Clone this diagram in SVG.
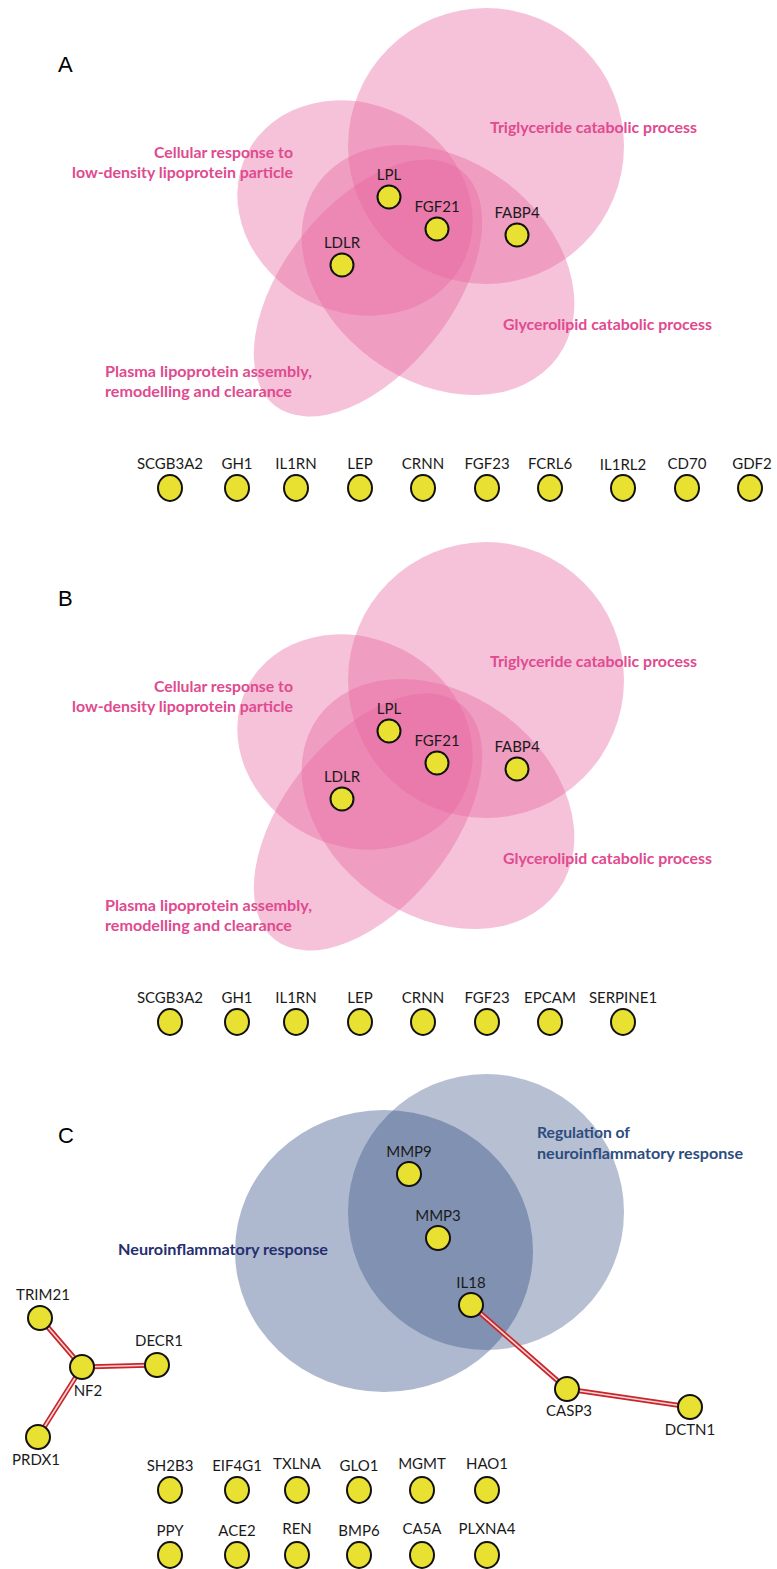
<svg xmlns="http://www.w3.org/2000/svg" width="777" height="1569" viewBox="0 0 777 1569">
<style>
.bg{fill:#ffffff}
.pink{fill:#e8669f;fill-opacity:0.4}
.blueL{fill:#5d739f;fill-opacity:0.5}
.blueR{fill:#254077;fill-opacity:0.33}
.node{fill:#e9e131;stroke:#111;stroke-width:2}
.lbl{font-family:Lato,"Open Sans","Liberation Sans",sans-serif;font-size:15px;fill:#1a1a1a;text-anchor:middle}
.cat{font-family:Lato,"Open Sans","Liberation Sans",sans-serif;font-size:16px;font-weight:bold;fill:#e04a8f}
.catR{text-anchor:end}
.catC1{font-family:Lato,"Open Sans","Liberation Sans",sans-serif;font-size:16px;font-weight:bold;fill:#252f70}
.catC2{font-family:Lato,"Open Sans","Liberation Sans",sans-serif;font-size:16px;font-weight:bold;fill:#2d4c7e}
.panel{font-family:"Liberation Sans",Arial,sans-serif;font-size:22px;fill:#000}
.edgeO{stroke:#c9262c;stroke-width:5;fill:none;stroke-linecap:round}
.edgeI{stroke:#f6d6d6;stroke-width:1.6;fill:none}
</style>
<defs>
<g id="venn">
<circle class="pink" cx="486" cy="146" r="138"/>
<ellipse class="pink" cx="0" cy="0" rx="121" ry="104" transform="translate(355 208) rotate(27)"/>
<ellipse class="pink" cx="0" cy="0" rx="148" ry="111" transform="translate(438 270) rotate(36)"/>
<ellipse class="pink" cx="0" cy="0" rx="150" ry="84" transform="translate(368 288) rotate(-51.5)"/>
</g>
<g id="cats">
<text class="cat catR" x="293" y="158" textLength="139" lengthAdjust="spacingAndGlyphs">Cellular response to</text>
<text class="cat catR" x="293" y="178" textLength="221" lengthAdjust="spacingAndGlyphs">low-density lipoprotein particle</text>
<text class="cat" x="105" y="377" textLength="207" lengthAdjust="spacingAndGlyphs">Plasma lipoprotein assembly,</text>
<text class="cat" x="105" y="397" textLength="187" lengthAdjust="spacingAndGlyphs">remodelling and clearance</text>
<text class="cat" x="490" y="133" textLength="207" lengthAdjust="spacingAndGlyphs">Triglyceride catabolic process</text>
<text class="cat" x="503" y="330" textLength="209" lengthAdjust="spacingAndGlyphs">Glycerolipid catabolic process</text>
</g>
</defs>
<rect class="bg" x="0" y="0" width="777" height="1569"/>

<!-- Panel A -->
<g id="panelA">
<text class="panel" x="58" y="72">A</text>
<g id="vennA"><use href="#venn"/></g>
<g id="catA"><use href="#cats"/></g>
<g id="A-LPL"><circle class="node" cx="389" cy="197" r="11.5"/><text class="lbl" x="389" y="180">LPL</text></g>
<g id="A-FGF21"><circle class="node" cx="437" cy="229" r="11.5"/><text class="lbl" x="437" y="212">FGF21</text></g>
<g id="A-FABP4"><circle class="node" cx="517" cy="235" r="11.5"/><text class="lbl" x="517" y="218">FABP4</text></g>
<g id="A-LDLR"><circle class="node" cx="342" cy="265" r="11.5"/><text class="lbl" x="342" y="248">LDLR</text></g>
<g id="A-SCGB3A2"><ellipse class="node" cx="170" cy="488" rx="12" ry="13"/><text class="lbl" x="170" y="469">SCGB3A2</text></g>
<g id="A-GH1"><ellipse class="node" cx="237" cy="488" rx="12" ry="13"/><text class="lbl" x="237" y="469">GH1</text></g>
<g id="A-IL1RN"><ellipse class="node" cx="296" cy="488" rx="12" ry="13"/><text class="lbl" x="296" y="469">IL1RN</text></g>
<g id="A-LEP"><ellipse class="node" cx="360" cy="488" rx="12" ry="13"/><text class="lbl" x="360" y="469">LEP</text></g>
<g id="A-CRNN"><ellipse class="node" cx="423" cy="488" rx="12" ry="13"/><text class="lbl" x="423" y="469">CRNN</text></g>
<g id="A-FGF23"><ellipse class="node" cx="487" cy="488" rx="12" ry="13"/><text class="lbl" x="487" y="469">FGF23</text></g>
<g id="A-FCRL6"><ellipse class="node" cx="550" cy="488" rx="12" ry="13"/><text class="lbl" x="550" y="469">FCRL6</text></g>
<g id="A-IL1RL2"><ellipse class="node" cx="623" cy="488" rx="12" ry="13"/><text class="lbl" x="623" y="470">IL1RL2</text></g>
<g id="A-CD70"><ellipse class="node" cx="687" cy="488" rx="12" ry="13"/><text class="lbl" x="687" y="469">CD70</text></g>
<g id="A-GDF2"><ellipse class="node" cx="750" cy="488" rx="12" ry="13"/><text class="lbl" x="752" y="469">GDF2</text></g>
</g>

<!-- Panel B -->
<g id="panelB">
<text class="panel" x="58" y="606">B</text>
<g id="vennB" transform="translate(0 534)"><use href="#venn"/></g>
<g id="catB" transform="translate(0 534)"><use href="#cats"/></g>
<g id="B-LPL"><circle class="node" cx="389" cy="731" r="11.5"/><text class="lbl" x="389" y="714">LPL</text></g>
<g id="B-FGF21"><circle class="node" cx="437" cy="763" r="11.5"/><text class="lbl" x="437" y="746">FGF21</text></g>
<g id="B-FABP4"><circle class="node" cx="517" cy="769" r="11.5"/><text class="lbl" x="517" y="752">FABP4</text></g>
<g id="B-LDLR"><circle class="node" cx="342" cy="799" r="11.5"/><text class="lbl" x="342" y="782">LDLR</text></g>
<g id="B-SCGB3A2"><ellipse class="node" cx="170" cy="1022" rx="12" ry="13"/><text class="lbl" x="170" y="1003">SCGB3A2</text></g>
<g id="B-GH1"><ellipse class="node" cx="237" cy="1022" rx="12" ry="13"/><text class="lbl" x="237" y="1003">GH1</text></g>
<g id="B-IL1RN"><ellipse class="node" cx="296" cy="1022" rx="12" ry="13"/><text class="lbl" x="296" y="1003">IL1RN</text></g>
<g id="B-LEP"><ellipse class="node" cx="360" cy="1022" rx="12" ry="13"/><text class="lbl" x="360" y="1003">LEP</text></g>
<g id="B-CRNN"><ellipse class="node" cx="423" cy="1022" rx="12" ry="13"/><text class="lbl" x="423" y="1003">CRNN</text></g>
<g id="B-FGF23"><ellipse class="node" cx="487" cy="1022" rx="12" ry="13"/><text class="lbl" x="487" y="1003">FGF23</text></g>
<g id="B-EPCAM"><ellipse class="node" cx="550" cy="1022" rx="12" ry="13"/><text class="lbl" x="550" y="1003">EPCAM</text></g>
<g id="B-SERPINE1"><ellipse class="node" cx="623" cy="1022" rx="12" ry="13"/><text class="lbl" x="623" y="1003">SERPINE1</text></g>
</g>

<!-- Panel C -->
<g id="panelC">
<text class="panel" x="58" y="1143">C</text>
<g id="vennC">
<ellipse class="blueL" cx="384" cy="1251" rx="149" ry="141"/>
<circle class="blueR" cx="486" cy="1212" r="138"/>
</g>
<text class="catC1" x="118" y="1255" textLength="210" lengthAdjust="spacingAndGlyphs">Neuroinflammatory response</text>
<text class="catC2" x="537" y="1138" textLength="93" lengthAdjust="spacingAndGlyphs">Regulation of</text>
<text class="catC2" x="537" y="1159" textLength="206" lengthAdjust="spacingAndGlyphs">neuroinflammatory response</text>

<g id="connectors">
<line class="edgeO" x1="471" y1="1305" x2="567" y2="1389"/>
<line class="edgeI" x1="471" y1="1305" x2="567" y2="1389"/>
<line class="edgeO" x1="567" y1="1389" x2="690" y2="1407"/>
<line class="edgeI" x1="567" y1="1389" x2="690" y2="1407"/>
<line class="edgeO" x1="40" y1="1318" x2="82" y2="1367"/>
<line class="edgeI" x1="40" y1="1318" x2="82" y2="1367"/>
<line class="edgeO" x1="82" y1="1367" x2="157" y2="1365"/>
<line class="edgeI" x1="82" y1="1367" x2="157" y2="1365"/>
<line class="edgeO" x1="82" y1="1367" x2="38" y2="1437"/>
<line class="edgeI" x1="82" y1="1367" x2="38" y2="1437"/>
</g>

<g id="C-MMP9"><circle class="node" cx="409" cy="1174" r="12"/><text class="lbl" x="409" y="1157">MMP9</text></g>
<g id="C-MMP3"><circle class="node" cx="438" cy="1238" r="12"/><text class="lbl" x="438" y="1221">MMP3</text></g>
<g id="C-IL18"><circle class="node" cx="471" cy="1305" r="12"/><text class="lbl" x="471" y="1288">IL18</text></g>
<g id="C-CASP3"><circle class="node" cx="567" cy="1389" r="12"/><text class="lbl" x="569" y="1416">CASP3</text></g>
<g id="C-DCTN1"><circle class="node" cx="690" cy="1407" r="12"/><text class="lbl" x="690" y="1435">DCTN1</text></g>
<g id="C-TRIM21"><circle class="node" cx="40" cy="1318" r="12"/><text class="lbl" x="43" y="1300">TRIM21</text></g>
<g id="C-NF2"><circle class="node" cx="82" cy="1367" r="12"/><text class="lbl" x="88" y="1396">NF2</text></g>
<g id="C-DECR1"><circle class="node" cx="157" cy="1365" r="12"/><text class="lbl" x="159" y="1346">DECR1</text></g>
<g id="C-PRDX1"><circle class="node" cx="38" cy="1437" r="12"/><text class="lbl" x="36" y="1465">PRDX1</text></g>

<g id="C-SH2B3"><ellipse class="node" cx="170" cy="1490" rx="12" ry="13"/><text class="lbl" x="170" y="1471">SH2B3</text></g>
<g id="C-EIF4G1"><ellipse class="node" cx="237" cy="1490" rx="12" ry="13"/><text class="lbl" x="237" y="1471">EIF4G1</text></g>
<g id="C-TXLNA"><ellipse class="node" cx="297" cy="1490" rx="12" ry="13"/><text class="lbl" x="297" y="1469">TXLNA</text></g>
<g id="C-GLO1"><ellipse class="node" cx="359" cy="1490" rx="12" ry="13"/><text class="lbl" x="359" y="1471">GLO1</text></g>
<g id="C-MGMT"><ellipse class="node" cx="422" cy="1490" rx="12" ry="13"/><text class="lbl" x="422" y="1469">MGMT</text></g>
<g id="C-HAO1"><ellipse class="node" cx="487" cy="1490" rx="12" ry="13"/><text class="lbl" x="487" y="1469">HAO1</text></g>
<g id="C-PPY"><ellipse class="node" cx="170" cy="1555" rx="12" ry="13"/><text class="lbl" x="170" y="1536">PPY</text></g>
<g id="C-ACE2"><ellipse class="node" cx="237" cy="1555" rx="12" ry="13"/><text class="lbl" x="237" y="1536">ACE2</text></g>
<g id="C-REN"><ellipse class="node" cx="297" cy="1555" rx="12" ry="13"/><text class="lbl" x="297" y="1534">REN</text></g>
<g id="C-BMP6"><ellipse class="node" cx="359" cy="1555" rx="12" ry="13"/><text class="lbl" x="359" y="1536">BMP6</text></g>
<g id="C-CA5A"><ellipse class="node" cx="422" cy="1555" rx="12" ry="13"/><text class="lbl" x="422" y="1534">CA5A</text></g>
<g id="C-PLXNA4"><ellipse class="node" cx="487" cy="1555" rx="12" ry="13"/><text class="lbl" x="487" y="1534">PLXNA4</text></g>
</g>
</svg>
